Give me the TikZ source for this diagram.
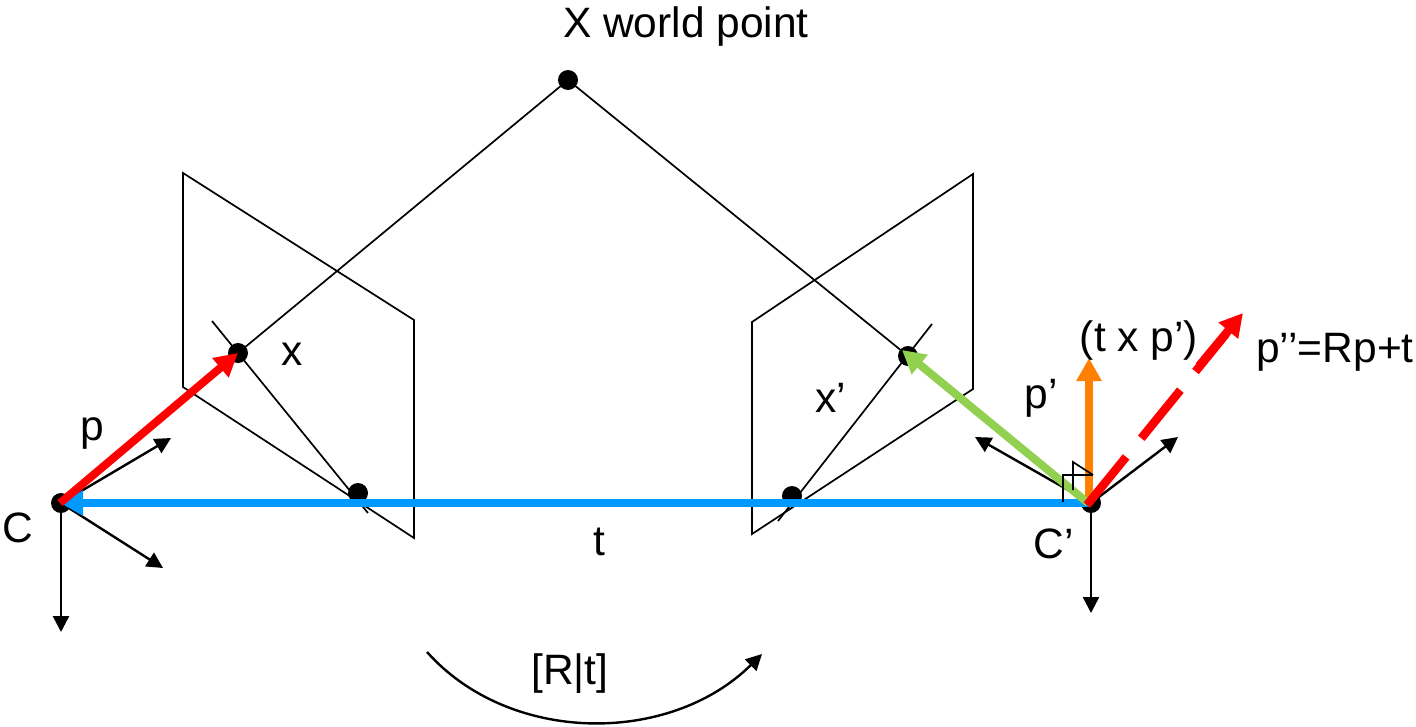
\documentclass[tikz,border=0pt]{standalone}
\usepackage{fontspec}
\setmainfont{Liberation Sans}
\usetikzlibrary{arrows.meta}
\definecolor{cblue}{HTML}{0099FF}
\definecolor{cgreen}{HTML}{92D050}
\definecolor{corange}{HTML}{FF8000}
\tikzset{
  thin line/.style={line width=1.7pt,black},
  axis/.style={line width=2.4pt,black,-{Triangle[length=16pt,width=16pt]}},
  thick arrow/.style={line width=8pt,-{Triangle[length=23pt,width=24pt]}},
  dot/.style={circle,fill=black,inner sep=0pt,minimum size=20pt},
  lab/.style={inner sep=0pt,font=\fontsize{42.5}{42.5}\selectfont,text=black}
}
\begin{document}
\begin{tikzpicture}[x=1pt,y=-1pt]
\useasboundingbox (0,0) rectangle (1416,726);
% named points
\node[dot] (X) at (568,80) {};
\node[dot] (xl) at (238,353) {};
\node[dot] (xr) at (908,356) {};
\node[dot] (el) at (358,493) {};
\node[dot] (er) at (792,496) {};
\node[dot] (C) at (61,503) {};
\node[dot] (Cp) at (1091,503) {};
\coordinate (la) at (183,173); \coordinate (lb) at (414,320);
\coordinate (lc) at (414,538); \coordinate (ld) at (183,387);
\coordinate (ra) at (973,174); \coordinate (rb) at (752,322);
\coordinate (rc) at (752,534); \coordinate (rd) at (973,389);
\coordinate (e1a) at (212,321); \coordinate (e1b) at (368,513);
\coordinate (e2a) at (932,324); \coordinate (e2b) at (778,521);
% planes and rays
\draw[thin line] (la) -- (lb) -- (lc) -- (ld) -- cycle;
\draw[thin line] (ra) -- (rb) -- (rc) -- (rd) -- cycle;
\draw[thin line] (X.center) -- (xl.center);
\draw[thin line] (X.center) -- (xr.center);
\draw[thin line] (e1a) -- (e1b);
\draw[thin line] (e2a) -- (e2b);
% axes
\coordinate (c1) at (171,438); \coordinate (c2) at (163,568); \coordinate (c3) at (61,632);
\coordinate (d1) at (975,437); \coordinate (d2) at (1178,437); \coordinate (d3) at (1091,613);
\draw[axis] (C.center) -- (c1);
\draw[axis] (C.center) -- (c2);
\draw[axis] (C.center) -- (c3);
\draw[axis] (Cp.center) -- (d1);
\draw[axis] (Cp.center) -- (d2);
\draw[axis] (Cp.center) -- (d3);
% coloured vectors
\coordinate (os) at (1089,500);
\coordinate (ot) at (1089,358);
\coordinate (rs) at (1087,505);
\coordinate (rt) at (1243,313);
\coordinate (gs) at (1088,503);
\coordinate (bs) at (1089,503);
\coordinate (ct) at (60,503);
\draw[thick arrow,corange] (os) -- (ot);
\draw[thick arrow,cblue] (bs) -- (ct);
\draw[thick arrow,cgreen] (gs) -- (902,350);
\draw[thick arrow,red] (ct) -- (xl.center);
\draw[line width=8.5pt,red,dash pattern=on 62pt off 24pt] (rs) -- (1226,334);
\draw[thick arrow,red,line width=8.5pt] (1199,366) -- (rt);
% right-angle marks
\coordinate (m1) at (1063,502); \coordinate (m2) at (1063,475); \coordinate (m3) at (1093,475);
\coordinate (m4) at (1073,490); \coordinate (m5) at (1073,462);
\draw[thin line] (m1) -- (m2) -- (m3);
\draw[thin line] (m4) -- (m5) -- (m3);
% rotation arc
\coordinate (a1) at (427,652); \coordinate (a2) at (762,654);
\draw[line width=2.4pt,black,-{Triangle[length=16pt,width=16pt]}] (a1) .. controls (510,745) and (670,745) .. (a2);
% labels
\node[lab] (tX) at (686,27) {X world point};
\node[lab] (tx) at (292,354) {x};
\node[lab] (tp) at (92,433) {p};
\node[lab] (tC) at (18,528) {C};
\node[lab] (tt) at (599,542) {t};
\node[lab] (tR) at (570,674) {[R|t]};
\node[lab] (txp) at (831,398) {x’};
\node[lab] (tpp) at (1041,398) {p’};
\node[lab] (tCp) at (1054,544) {C’};
\node[lab] (tc) at (1139,341) {(t x p’)};
\node[lab] (tr) at (1335,352) {p’’=Rp+t};
\end{tikzpicture}
\end{document}
